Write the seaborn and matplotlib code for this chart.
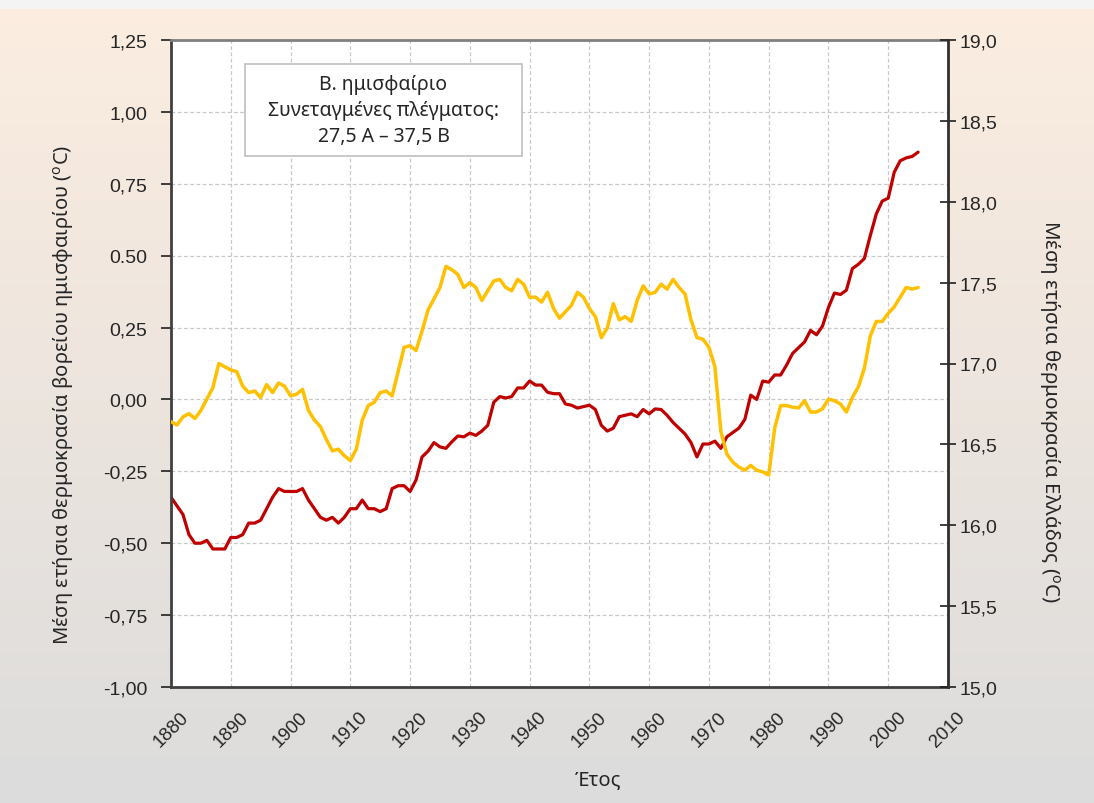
import numpy as np
import pandas as pd
import matplotlib
matplotlib.use("Agg")
import matplotlib.pyplot as plt
from matplotlib.patches import Rectangle
import seaborn as sns

# data
years = list(range(1880, 2006))

nh_anomaly = [
    -0.34, -0.37, -0.40, -0.47, -0.50, -0.50, -0.49, -0.52, -0.52, -0.52,
    -0.48, -0.48, -0.47, -0.43, -0.43, -0.42, -0.38, -0.34, -0.31, -0.32,
    -0.32, -0.32, -0.31, -0.35, -0.38, -0.41, -0.42, -0.41, -0.43, -0.41,
    -0.38, -0.38, -0.35, -0.38, -0.38, -0.39, -0.38, -0.31, -0.30, -0.30,
    -0.32, -0.28, -0.20, -0.18, -0.15, -0.165, -0.17, -0.147, -0.127, -0.13,
    -0.117, -0.125, -0.11, -0.09, -0.01, 0.01, 0.005, 0.01, 0.04, 0.04,
    0.064, 0.05, 0.05, 0.025, 0.02, 0.02, -0.016, -0.02, -0.03, -0.025,
    -0.02, -0.035, -0.09, -0.11, -0.10, -0.06, -0.055, -0.05, -0.06, -0.035,
    -0.05, -0.033, -0.035, -0.055, -0.08, -0.10, -0.12, -0.15, -0.20, -0.155,
    -0.155, -0.145, -0.17, -0.13, -0.115, -0.10, -0.07, 0.015, 0.00, 0.064,
    0.06, 0.085, 0.085, 0.12, 0.16, 0.18, 0.20, 0.24, 0.225, 0.255,
    0.32, 0.37, 0.365, 0.38, 0.455, 0.47, 0.49, 0.57, 0.645, 0.69,
    0.70, 0.79, 0.83, 0.84, 0.845, 0.86,
]

greece_temp = [
    16.64, 16.62, 16.67, 16.69, 16.66, 16.71, 16.78, 16.85, 17.00, 16.98,
    16.96, 16.95, 16.86, 16.82, 16.83, 16.79, 16.87, 16.82, 16.88, 16.86,
    16.80, 16.81, 16.84, 16.71, 16.65, 16.61, 16.53, 16.46, 16.47, 16.43,
    16.40, 16.47, 16.65, 16.74, 16.76, 16.82, 16.83, 16.80, 16.95, 17.10,
    17.11, 17.08, 17.20, 17.33, 17.40, 17.47, 17.60, 17.58, 17.55, 17.47,
    17.50, 17.47, 17.39, 17.45, 17.51, 17.52, 17.47, 17.45, 17.52, 17.49,
    17.41, 17.41, 17.38, 17.44, 17.34, 17.28, 17.32, 17.36, 17.44, 17.41,
    17.34, 17.29, 17.16, 17.22, 17.37, 17.27, 17.29, 17.26, 17.39, 17.48,
    17.43, 17.44, 17.49, 17.46, 17.52, 17.47, 17.43, 17.27, 17.16, 17.15,
    17.10, 16.98, 16.58, 16.44, 16.39, 16.36, 16.34, 16.37, 16.34, 16.33,
    16.31, 16.60, 16.74, 16.74, 16.73, 16.725, 16.77, 16.70, 16.70, 16.72,
    16.78, 16.77, 16.75, 16.70, 16.79, 16.855, 16.97, 17.17, 17.26, 17.26,
    17.31, 17.35, 17.41, 17.47, 17.46, 17.47,
]

left_ticks = [-1.0, -0.75, -0.5, -0.25, 0.0, 0.25, 0.5, 0.75, 1.0, 1.25]
left_labels = ["-1,00", "-0,75", "-0,50", "-0,25", "0,00", "0,25", "0.50", "0,75", "1,00", "1,25"]
right_ticks = [15.0, 15.5, 16.0, 16.5, 17.0, 17.5, 18.0, 18.5, 19.0]
right_labels = ["15,0", "15,5", "16,0", "16,5", "17,0", "17,5", "18,0", "18,5", "19,0"]
year_ticks = list(range(1880, 2011, 10))

box_lines = ["Β. ημισφαίριο", "Συνεταγμένες πλέγματος:", "27,5 A – 37,5 B"]

df = pd.DataFrame({"year": years, "nh": nh_anomaly, "gr": greece_temp})

sns.set_style("white")
plt.rcParams["font.family"] = ["Liberation Sans", "DejaVu Sans"]
plt.rcParams["mathtext.default"] = "regular"
label_font = ["Noto Sans", "DejaVu Sans"]

fig = plt.figure(figsize=(10.94, 8.04), dpi=100)

# background gradient (peach at top, grey at bottom)
bg = fig.add_axes([0, 0, 1, 1], zorder=-10)
top = np.array([252, 237, 224]) / 255
bot = np.array([220, 220, 220]) / 255
t = np.linspace(0, 1, 256)[:, None]
grad = (top * (1 - t) + bot * t)[:, None, :]
bg.imshow(grad, aspect="auto", extent=[0, 1, 0, 1])
bg.add_patch(Rectangle((0, 1 - 10 / 804), 1, 10 / 804, color="#f4f4f4", lw=0))
bg.set_xlim(0, 1)
bg.set_ylim(0, 1)
bg.axis("off")

ax = fig.add_axes([171 / 1094, 1 - 688 / 804, 777 / 1094, 647 / 804])
ax.set_facecolor("white")
ax2 = ax.twinx()

sns.lineplot(data=df, x="year", y="nh", ax=ax, color="#c00000", linewidth=2.3)
sns.lineplot(data=df, x="year", y="gr", ax=ax2, color="#ffc000", linewidth=2.5)

ax.set_xlim(1880, 2010)
ax.set_ylim(-1.0, 1.25)
ax2.set_ylim(15.0, 19.0)

ax.set_xticks(year_ticks)
ax.set_xticklabels([str(y) for y in year_ticks], rotation=45, fontsize=13.5)
ax.set_yticks(left_ticks)
ax.set_yticklabels(left_labels, fontsize=14)
ax2.set_yticks(right_ticks)
ax2.set_yticklabels(right_labels, fontsize=14)

ax.grid(True, color="#c8c8c8", linestyle=(0, (3, 2)), linewidth=0.9)
ax.set_axisbelow(True)

ax.tick_params(axis="y", direction="out", length=7, width=1.2, color="#202020", pad=10)
ax.tick_params(axis="x", direction="out", length=7, width=1.2, color="#202020", pad=8)
ax2.tick_params(axis="y", direction="inout", length=12, width=1.2, color="#202020", right=True, pad=2)

for s in ["left", "bottom"]:
    ax.spines[s].set_color("#404040")
    ax.spines[s].set_linewidth(2)
ax.spines["top"].set_color("#808080")
ax.spines["top"].set_linewidth(2)
ax2.spines["right"].set_color("#303030")
ax2.spines["right"].set_linewidth(2)
for s in ["left", "bottom", "top"]:
    ax2.spines[s].set_visible(False)

ax.set_xlabel("Έτος", fontsize=14.5, family=label_font)
ax.set_ylabel("Μέση ετήσια θερμοκρασία βορείου ημισφαιρίου ($^{o}$C)",
              fontsize=14.5, family=label_font)
ax2.set_ylabel("Μέση ετήσια θερμοκρασία Ελλάδος ($^{o}$C)", fontsize=14.8,
               family=label_font, rotation=270, va="center")
ax.xaxis.set_label_coords(0.55, -0.127)
ax.yaxis.set_label_coords(-0.122, 0.453)
ax2.yaxis.set_label_coords(1.131, 0.428)

# annotation box
ax.add_patch(Rectangle((0.0952, 0.8207), 0.3565, 0.1422, transform=ax.transAxes,
                       facecolor="white", edgecolor="#bfbfbf", linewidth=1.2, zorder=5))
ax.text(0.2735, 0.892, "\n".join(box_lines), transform=ax.transAxes, ha="center",
        va="center", fontsize=14, family=label_font, linespacing=1.4, zorder=6)

fig.savefig("out.png", dpi=100)
plt.close(fig)
